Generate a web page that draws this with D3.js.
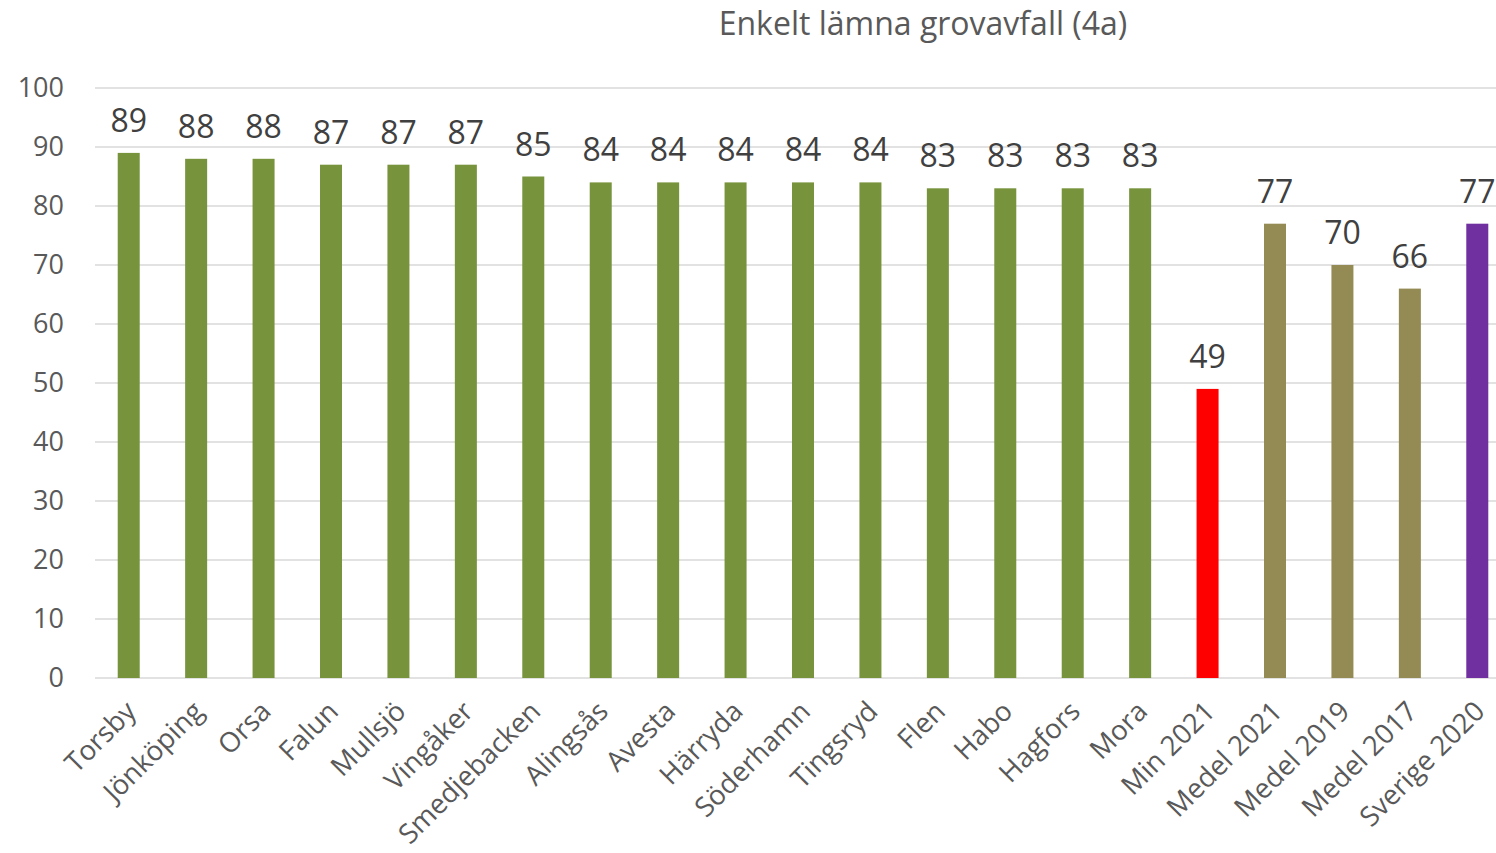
<!DOCTYPE html>
<html>
<head>
<meta charset="utf-8">
<script src="https://cdn.jsdelivr.net/npm/d3@7"></script>
<style>
	body { margin: 0; background: #fff; }
	text { font-family: "Open Sans", "Noto Sans", sans-serif; }
</style>
</head>
<body>
<div id="vis"></div>
<script>

var categories = ["Torsby", "Jönköping", "Orsa", "Falun", "Mullsjö", "Vingåker", "Smedjebacken", "Alingsås", "Avesta", "Härryda", "Söderhamn", "Tingsryd", "Flen", "Habo", "Hagfors", "Mora", "Min 2021", "Medel 2021", "Medel 2019", "Medel 2017", "Sverige 2020"];
var values = [89, 88, 88, 87, 87, 87, 85, 84, 84, 84, 84, 84, 83, 83, 83, 83, 49, 77, 70, 66, 77];
var barColours = ["#77933c", "#77933c", "#77933c", "#77933c", "#77933c", "#77933c", "#77933c", "#77933c", "#77933c", "#77933c", "#77933c", "#77933c", "#77933c", "#77933c", "#77933c", "#77933c", "#ff0000", "#948a54", "#948a54", "#948a54", "#7030a0"];
var yTicks = [0, 10, 20, 30, 40, 50, 60, 70, 80, 90, 100];
var title = "Enkelt lämna grovavfall (4a)";

var w = 1496, h = 853;

var svg = d3.select("#vis").append("svg")
.attr("width", w)
.attr("height", h);

var x = d3.scaleBand()
.domain(categories)
.range([95, 1511])
.paddingInner(0.674)
.paddingOuter(0.337);

var y = d3.scaleLinear()
.domain([0, 100])
.range([678, 88]);

// gridlines
svg.append("g")
.selectAll("line")
.data(yTicks)
.enter()
.append("line")
.attr("x1", 95)
.attr("x2", w)
.attr("y1", function (d) { return y(d); })
.attr("y2", function (d) { return y(d); })
.attr("stroke", "#d9d9d9")
.attr("stroke-width", 1.5);

// y tick labels
svg.append("g")
.selectAll("text")
.data(yTicks)
.enter()
.append("text")
.attr("x", 64)
.attr("y", function (d) { return y(d); })
.attr("dy", "0.35em")
.attr("text-anchor", "end")
.attr("font-size", 27)
.attr("fill", "#595959")
.text(function (d) { return d; });

var bw = 22;

svg.append("g")
.selectAll("rect")
.data(values)
.enter()
.append("rect")
.attr("x", function (d, i) { return x(categories[i]) + x.bandwidth()/2 - bw/2; })
.attr("y", function (d) { return y(d); })
.attr("width", bw)
.attr("height", function (d) { return y(0) - y(d); })
.attr("fill", function (d, i) { return barColours[i]; });

// data labels
svg.append("g")
.selectAll("text")
.data(values)
.enter()
.append("text")
.attr("x", function (d, i) { return x(categories[i]) + x.bandwidth()/2; })
.attr("y", function (d) { return y(d) - 21; })
.attr("text-anchor", "middle")
.attr("font-size", 32)
.attr("fill", "#404040")
.text(function (d) { return d; });

// category labels, rotated like excel does
svg.append("g")
.selectAll("text")
.data(categories)
.enter()
.append("text")
.attr("transform", function (d) {
	var cx = x(d) + x.bandwidth()/2 + 9;
	return "translate(" + cx + ",713) rotate(-45)";
})
.attr("text-anchor", "end")
.attr("font-size", 27.5)
.attr("fill", "#595959")
.text(function (d) { return d; });

svg.append("text")
.attr("x", 923)
.attr("y", 35)
.attr("text-anchor", "middle")
.attr("font-size", 32)
.attr("fill", "#595959")
.text(title);

</script>
</body>
</html>
